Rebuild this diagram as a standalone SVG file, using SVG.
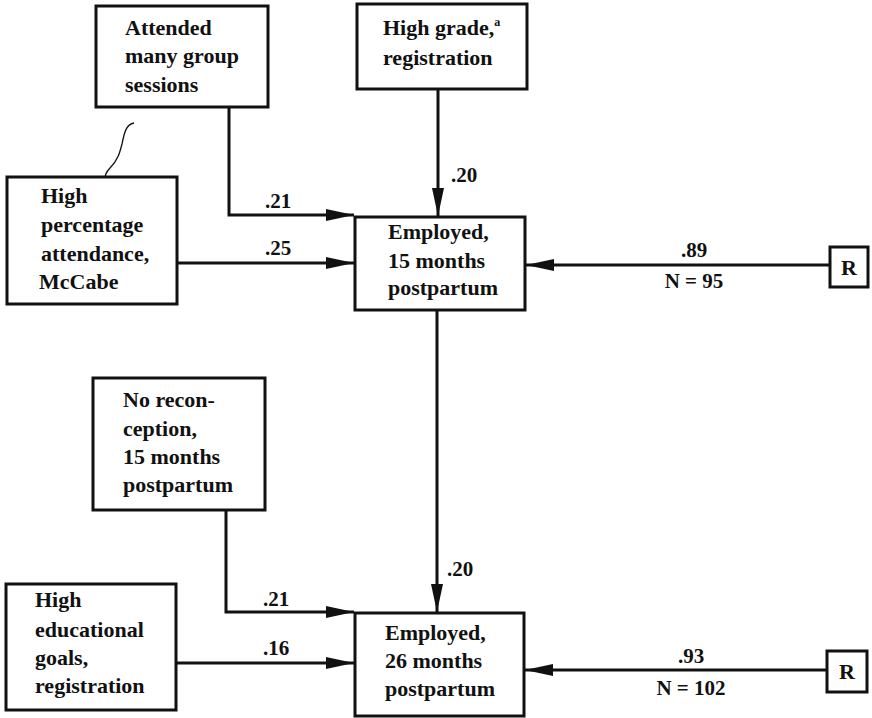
<svg xmlns="http://www.w3.org/2000/svg" width="872" height="718" viewBox="0 0 872 718">
<style>
  .box { fill: #fff; stroke: #111; stroke-width: 3; }
  .t { font-family: "Liberation Serif", "Times New Roman", serif; font-weight: bold; font-size: 22px; fill: #111; }
  .lbl { font-family: "Liberation Serif", "Times New Roman", serif; font-weight: bold; font-size: 21px; fill: #111; }
  .c { fill: none; stroke: #111; stroke-width: 3; }
</style>
<defs>
  <marker id="ah" viewBox="0 0 28 12" refX="28" refY="6" markerWidth="28" markerHeight="12" markerUnits="userSpaceOnUse" orient="auto">
    <path d="M0,0 L28,6 L0,12 Z" fill="#111"/>
  </marker>
</defs>
<rect width="872" height="718" fill="#fff"/>

<g id="connectors">
  <path class="c" d="M229,107 V215 H354" marker-end="url(#ah)"/>
  <path class="c" d="M177,263 H354" marker-end="url(#ah)"/>
  <path class="c" d="M438,89 V216" marker-end="url(#ah)"/>
  <path class="c" d="M830,265 H526" marker-end="url(#ah)"/>
  <path class="c" d="M437,310 V612" marker-end="url(#ah)"/>
  <path class="c" d="M226,510 V612 H354" marker-end="url(#ah)"/>
  <path class="c" d="M176,663 H354" marker-end="url(#ah)"/>
  <path class="c" d="M827,670 H525" marker-end="url(#ah)"/>
  <text class="lbl" x="265" y="208">.21</text>
  <text class="lbl" x="265" y="255">.25</text>
  <text class="lbl" x="451" y="182">.20</text>
  <text class="lbl" x="694" y="257" text-anchor="middle">.89</text>
  <text class="lbl" x="694" y="288" text-anchor="middle">N = 95</text>
  <text class="lbl" x="447" y="576">.20</text>
  <text class="lbl" x="263" y="606">.21</text>
  <text class="lbl" x="263" y="655">.16</text>
  <text class="lbl" x="691" y="663" text-anchor="middle">.93</text>
  <text class="lbl" x="691" y="695" text-anchor="middle">N = 102</text>
</g>

<path d="M134,123 C126,124 124,134 122,144 C120,152 118,160 110,168 C106,172 104,177 106,179" fill="none" stroke="#111" stroke-width="1.3"/>

<g id="attended">
  <rect class="box" x="96" y="6" width="172" height="101"/>
  <text class="t" x="125" y="35">Attended</text>
  <text class="t" x="125" y="63">many group</text>
  <text class="t" x="125" y="92">sessions</text>
</g>

<g id="highgrade">
  <rect class="box" x="357" y="4" width="170" height="85"/>
  <text class="t" x="383" y="35">High grade,<tspan font-size="12" dy="-9">a</tspan></text>
  <text class="t" x="383" y="65">registration</text>
</g>

<g id="percentage">
  <rect class="box" x="7" y="177" width="170" height="127"/>
  <text class="t" x="41" y="203">High</text>
  <text class="t" x="41" y="232">percentage</text>
  <text class="t" x="41" y="261">attendance,</text>
  <text class="t" x="39" y="289">McCabe</text>
</g>

<g id="employed15">
  <rect class="box" x="355" y="217" width="170" height="93"/>
  <text class="t" x="388" y="239">Employed,</text>
  <text class="t" x="388" y="268">15 months</text>
  <text class="t" x="388" y="295">postpartum</text>
</g>

<g id="r1">
  <rect class="box" x="830" y="247" width="38" height="40"/>
  <text class="t" x="849" y="275" text-anchor="middle">R</text>
</g>

<g id="noreconception">
  <rect class="box" x="93" y="378" width="172" height="132"/>
  <text class="t" x="123" y="407">No recon-</text>
  <text class="t" x="123" y="436">ception,</text>
  <text class="t" x="123" y="464">15 months</text>
  <text class="t" x="123" y="492">postpartum</text>
</g>

<g id="goals">
  <rect class="box" x="6" y="584" width="170" height="126"/>
  <text class="t" x="35" y="607">High</text>
  <text class="t" x="35" y="637">educational</text>
  <text class="t" x="35" y="665">goals,</text>
  <text class="t" x="35" y="693">registration</text>
</g>

<g id="employed26">
  <rect class="box" x="355" y="613" width="169" height="103"/>
  <text class="t" x="385" y="640">Employed,</text>
  <text class="t" x="385" y="668">26 months</text>
  <text class="t" x="385" y="696">postpartum</text>
</g>

<g id="r2">
  <rect class="box" x="827" y="651" width="40" height="41"/>
  <text class="t" x="847" y="679" text-anchor="middle">R</text>
</g>
</svg>
